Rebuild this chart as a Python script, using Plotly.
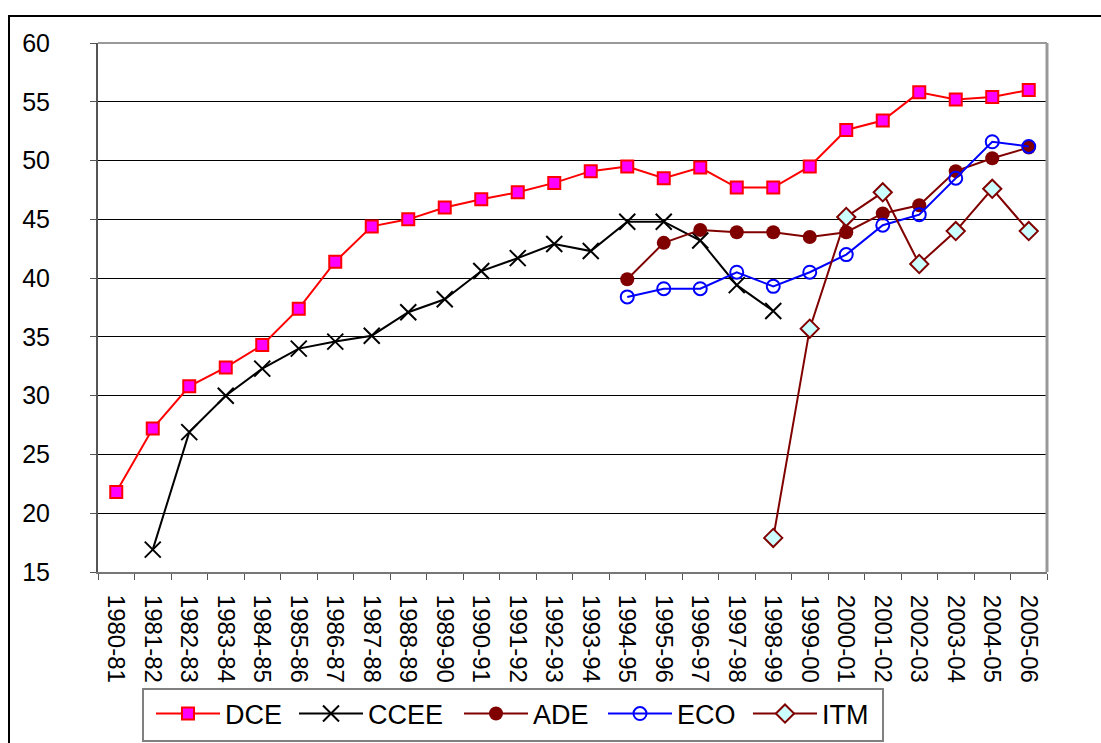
import plotly.graph_objects as go

# Academic years on the category axis
years = [
    "1980-81", "1981-82", "1982-83", "1983-84", "1984-85", "1985-86", "1986-87",
    "1987-88", "1988-89", "1989-90", "1990-91", "1991-92", "1992-93", "1993-94",
    "1994-95", "1995-96", "1996-97", "1997-98", "1998-99", "1999-00", "2000-01",
    "2001-02", "2002-03", "2003-04", "2004-05", "2005-06",
]

dce = [21.8, 27.2, 30.8, 32.4, 34.3, 37.4, 41.4, 44.4, 45.0, 46.0, 46.7, 47.3, 48.1,
       49.1, 49.5, 48.5, 49.4, 47.7, 47.7, 49.5, 52.6, 53.4, 55.8, 55.2, 55.4, 56.0]
ccee = [None, 16.9, 26.9, 30.0, 32.3, 34.0, 34.6, 35.1, 37.1, 38.2, 40.6, 41.7, 42.9,
        42.3, 44.8, 44.8, 43.2, 39.4, 37.2, None, None, None, None, None, None, None]
ade = [None] * 14 + [39.9, 43.0, 44.1, 43.9, 43.9, 43.5, 43.9, 45.5, 46.2, 49.1, 50.2, 51.1]
eco = [None] * 14 + [38.4, 39.1, 39.1, 40.5, 39.3, 40.5, 42.0, 44.5, 45.4, 48.5, 51.6, 51.2]
itm = [None] * 18 + [17.9, 35.7, 45.2, 47.3, 41.2, 44.0, 47.6, 44.0]

y_ticks = [15, 20, 25, 30, 35, 40, 45, 50, 55, 60]

FONT = "Liberation Sans, Arial, sans-serif"

W, H = 1101, 743
L, R, T, B = 98, 54, 43, 171
pw, ph = W - L - R, H - T - B


def px_x(p):
    return (p - L) / pw


def px_y(p):
    return (H - B - p) / ph


fig = go.Figure()

fig.add_trace(go.Scatter(
    x=years, y=dce, name="DCE", mode="lines+markers", legend="legend",
    line=dict(color="#FF0000", width=2),
    marker=dict(symbol="square", size=12, color="#FF00FF",
                line=dict(color="#FF0000", width=2)),
))
fig.add_trace(go.Scatter(
    x=years, y=ccee, name="CCEE", mode="lines+markers", legend="legend2",
    line=dict(color="#000000", width=2),
    marker=dict(symbol="x-thin", size=16, color="#000000",
                line=dict(color="#000000", width=2)),
))
fig.add_trace(go.Scatter(
    x=years, y=ade, name="ADE", mode="lines+markers", legend="legend3",
    line=dict(color="#800000", width=2),
    marker=dict(symbol="circle", size=14, color="#800000",
                line=dict(color="#800000", width=0)),
))
fig.add_trace(go.Scatter(
    x=years, y=eco, name="ECO", mode="lines+markers", legend="legend4",
    line=dict(color="#0000FF", width=2),
    marker=dict(symbol="circle-open", size=13, color="#0000FF",
                line=dict(color="#0000FF", width=2)),
))
fig.add_trace(go.Scatter(
    x=years, y=itm, name="ITM", mode="lines+markers", legend="legend5",
    line=dict(color="#800000", width=2),
    marker=dict(symbol="diamond", size=14, color="#CCFFFF",
                line=dict(color="#800000", width=2)),
))

# one legend per series so each entry sits where it belongs in the key box
entry_line_starts = [156, 299, 464, 608, 753]
legend_common = dict(
    xanchor="left", yanchor="middle", y=px_y(714),
    borderwidth=0, bgcolor="rgba(0,0,0,0)",
    font=dict(family=FONT, size=27, color="black"),
    itemwidth=64,
)
legends = {}
for i, xs in enumerate(entry_line_starts):
    key = "legend" if i == 0 else f"legend{i + 1}"
    legends[key] = dict(legend_common, x=px_x(xs - 5))

fig.update_layout(
    width=W, height=H,
    margin=dict(l=L, r=R, t=T, b=B, pad=0, autoexpand=False),
    paper_bgcolor="white", plot_bgcolor="white",
    font=dict(family=FONT, color="black"),
    showlegend=True,
    **legends,
    xaxis=dict(
        type="category", categoryorder="array", categoryarray=years,
        range=[-0.5, len(years) - 0.5], automargin=False,
        tickangle=90, tickfont=dict(family=FONT, size=24, color="black"),
        ticks="outside", ticklen=6, tickcolor="#555555", tickwidth=1,
        tickson="boundaries",
        showgrid=False, zeroline=False,
        showline=True, linecolor="#777777", linewidth=2,
        ticklabelstandoff=16,
    ),
    yaxis=dict(
        range=[15, 60], tickvals=y_ticks, automargin=False,
        tickfont=dict(family=FONT, size=25, color="black"),
        ticks="outside", ticklen=6, tickcolor="#555555", tickwidth=1,
        showgrid=True, gridcolor="#000000", gridwidth=1,
        zeroline=False,
        showline=True, linecolor="#555555", linewidth=2,
        ticklabelstandoff=35,
    ),
    shapes=[
        # plot-area frame (top and right edges)
        dict(type="line", xref="paper", yref="paper", x0=0, x1=1, y0=1, y1=1,
             line=dict(color="#999999", width=2)),
        dict(type="line", xref="paper", yref="paper", x0=1, x1=1, y0=0, y1=1,
             line=dict(color="#999999", width=3)),
        # outer chart frame
        dict(type="rect", xref="paper", yref="paper",
             x0=px_x(9), x1=1.3, y0=-0.6, y1=px_y(16),
             line=dict(color="#000000", width=2), layer="below"),
        # key box
        dict(type="rect", xref="paper", yref="paper",
             x0=px_x(143), x1=px_x(883), y0=px_y(741), y1=px_y(689),
             line=dict(color="#808080", width=2), layer="below"),
    ],
)

fig.write_html("out.html")
